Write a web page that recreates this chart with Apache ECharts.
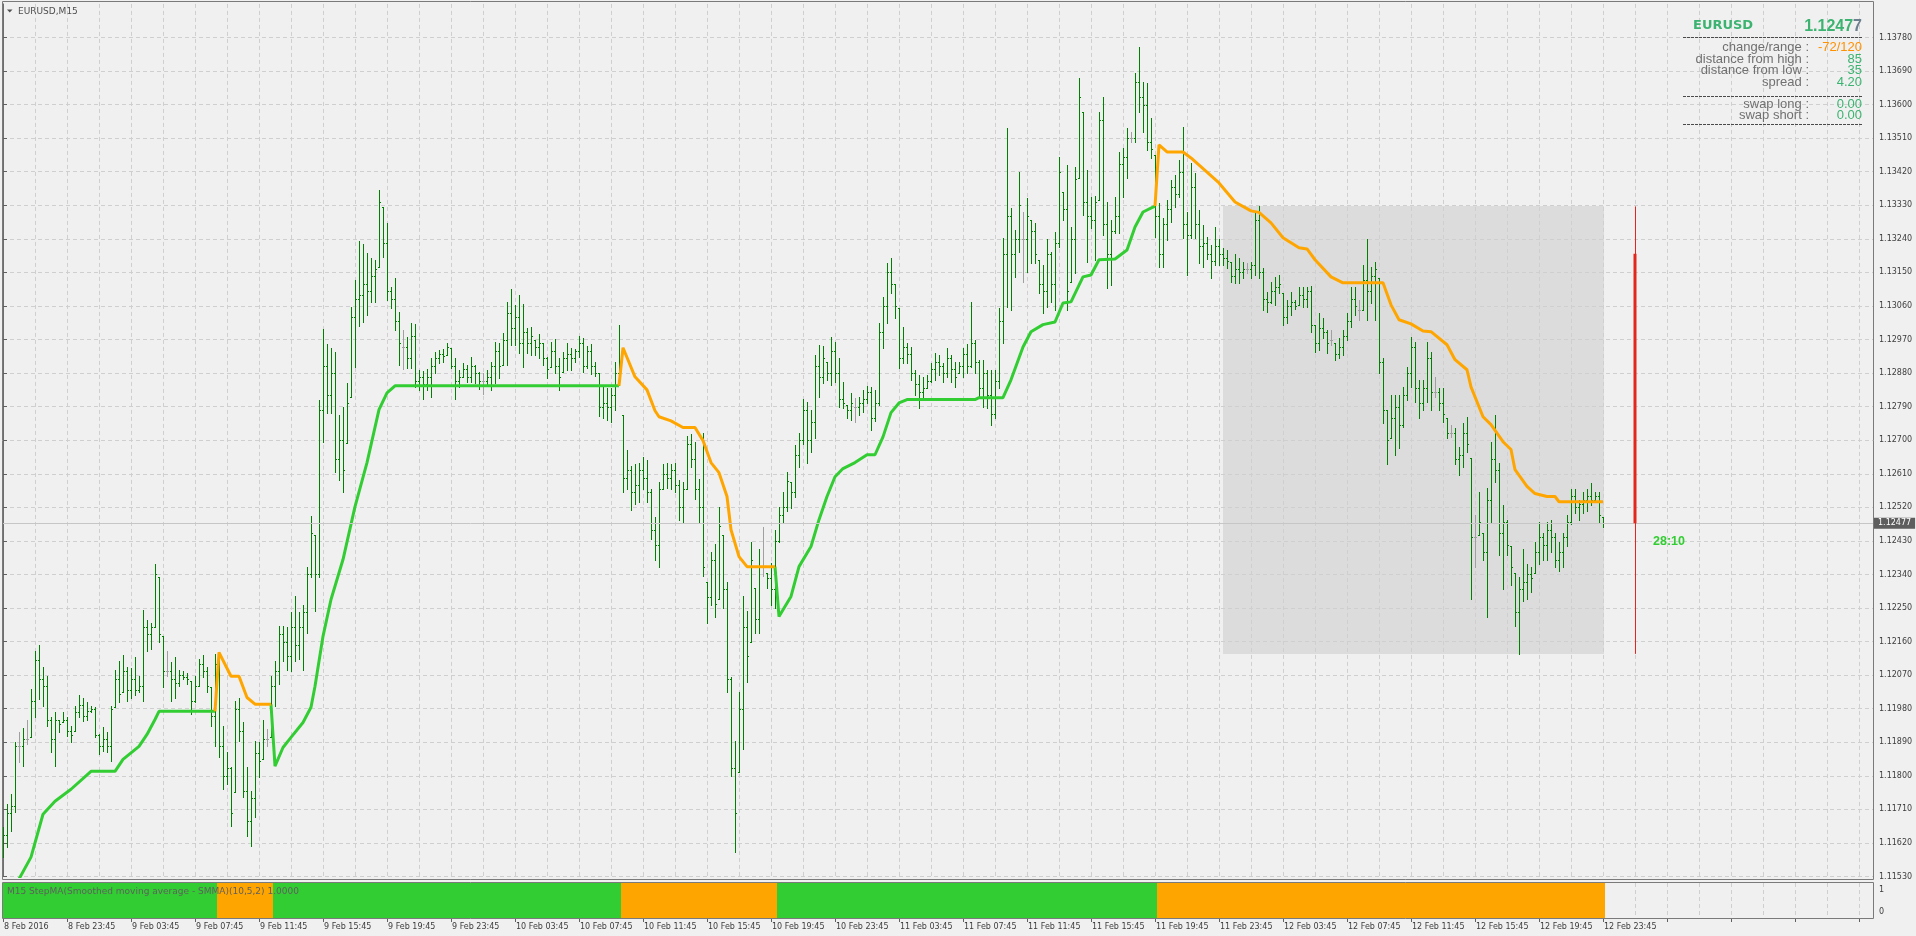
<!DOCTYPE html>
<html><head><meta charset="utf-8">
<script src="https://cdn.jsdelivr.net/npm/echarts@6/dist/echarts.min.js"></script>
<style>html,body{margin:0;padding:0;background:#f0f0f0;}#c{width:1916px;height:936px;}</style>
</head><body><div id="c"></div>
<script>
const symbolName = 'EURUSD';
const timeframe = 'M15';
const indicatorName = 'M15 StepMA(Smoothed moving average - SMMA)(10,5,2) 1.0000';
const timerText = '28:10';
const spreadValue = 4.20, swapLong = 0.00, swapShort = 0.00;
const tickLabels = ['8 Feb 2016','8 Feb 23:45','9 Feb 03:45','9 Feb 07:45','9 Feb 11:45','9 Feb 15:45','9 Feb 19:45','9 Feb 23:45','10 Feb 03:45','10 Feb 07:45','10 Feb 11:45','10 Feb 15:45','10 Feb 19:45','10 Feb 23:45','11 Feb 03:45','11 Feb 07:45','11 Feb 11:45','11 Feb 15:45','11 Feb 19:45','11 Feb 23:45','12 Feb 03:45','12 Feb 07:45','12 Feb 11:45','12 Feb 15:45','12 Feb 19:45','12 Feb 23:45'];
const dayStartIndex = 305; // first bar of 12 Feb

const barHigh = [1.11662,1.11724,1.11750,1.11890,1.11917,1.11927,1.11951,1.12032,1.12136,1.12152,
1.12091,1.12067,1.11959,1.11970,1.11951,1.11970,1.11957,1.11933,1.11986,1.12018,
1.12010,1.11997,1.11986,1.11984,1.11911,1.11930,1.11917,1.11986,1.12083,1.12109,
1.12123,1.12091,1.12088,1.12118,1.12067,1.12246,1.12219,1.12211,1.12367,1.12334,
1.12174,1.12134,1.12104,1.12118,1.12085,1.12080,1.12077,1.12053,1.12067,1.12112,
1.12123,1.12093,1.12037,1.12126,1.12118,1.11933,1.11863,1.11823,1.12000,1.12010,
1.11943,1.11823,1.11759,1.11893,1.11890,1.11951,1.11925,1.12067,1.12107,1.12201,
1.12201,1.12198,1.12238,1.12281,1.12238,1.12259,1.12359,1.12498,1.12447,1.12809,
1.12999,1.12959,1.12948,1.12937,1.12768,1.12790,1.12854,1.13058,1.13130,1.13234,
1.13226,1.13202,1.13189,1.13184,1.13371,1.13325,1.13283,1.13111,1.13135,1.13044,
1.12996,1.12977,1.13015,1.13012,1.12889,1.12886,1.12892,1.12921,1.12937,1.12943,
1.12945,1.12961,1.12948,1.12921,1.12889,1.12908,1.12902,1.12924,1.12902,1.12884,
1.12881,1.12889,1.12910,1.12964,1.12961,1.12988,1.13071,1.13106,1.13063,1.13090,
1.13066,1.13001,1.13004,1.12969,1.12985,1.12961,1.12924,1.12964,1.12972,1.12921,
1.12937,1.12961,1.12948,1.12945,1.12980,1.12975,1.12953,1.12959,1.12910,1.12881,
1.12846,1.12841,1.12841,1.12910,1.13010,1.12768,1.12675,1.12632,1.12635,1.12640,
1.12656,1.12648,1.12568,1.12493,1.12589,1.12637,1.12640,1.12635,1.12640,1.12594,
1.12589,1.12712,1.12718,1.12696,1.12597,1.12720,1.12321,1.12401,1.12423,1.12522,
1.12447,1.12321,1.12064,1.11893,1.12024,1.12281,1.12241,1.12426,1.12305,1.12407,
1.12468,1.12345,1.12372,1.12460,1.12522,1.12562,1.12616,1.12589,1.12688,1.12720,
1.12811,1.12803,1.12782,1.12929,1.12956,1.12953,1.12910,1.12977,1.12964,1.12921,
1.12857,1.12795,1.12827,1.12814,1.12817,1.12835,1.12846,1.12843,1.12835,1.13015,
1.13084,1.13176,1.13189,1.13119,1.13055,1.13004,1.12961,1.12950,1.12889,1.12876,
1.12870,1.12876,1.12908,1.12935,1.12929,1.12908,1.12948,1.12929,1.12910,1.12910,
1.12948,1.12959,1.13071,1.12969,1.12916,1.12916,1.12889,1.12889,1.12889,1.13055,
1.13243,1.13537,1.13323,1.13264,1.13419,1.13312,1.13350,1.13291,1.13283,1.13184,
1.13170,1.13240,1.13205,1.13259,1.13460,1.13366,1.13438,1.13272,1.13433,1.13671,
1.13580,1.13425,1.13352,1.13355,1.13580,1.13620,1.13339,1.13291,1.13352,1.13473,
1.13484,1.13537,1.13526,1.13684,1.13754,1.13660,1.13658,1.13564,1.13465,1.13336,
1.13296,1.13344,1.13398,1.13411,1.13451,1.13540,1.13312,1.13443,1.13417,1.13318,
1.13277,1.13245,1.13224,1.13272,1.13240,1.13216,1.13210,1.13178,1.13200,1.13189,
1.13178,1.13176,1.13178,1.13312,1.13327,1.13162,1.13098,1.13125,1.13138,1.13143,
1.13095,1.13076,1.13098,1.13076,1.13111,1.13111,1.13111,1.13114,1.13010,1.13042,
1.13028,1.12996,1.12996,1.12961,1.12975,1.12996,1.13042,1.13111,1.13111,1.13076,
1.13170,1.13240,1.13165,1.13178,1.13135,1.12921,1.12782,1.12822,1.12822,1.12822,
1.12843,1.12897,1.12977,1.12964,1.12862,1.12862,1.12964,1.12937,1.12870,1.12841,
1.12841,1.12760,1.12742,1.12734,1.12683,1.12747,1.12763,1.12653,1.12500,1.12562,
1.12452,1.12573,1.12696,1.12768,1.12640,1.12527,1.12487,1.12415,1.12345,1.12332,
1.12407,1.12367,1.12361,1.12426,1.12482,1.12452,1.12482,1.12487,1.12452,1.12426,
1.12452,1.12500,1.12568,1.12568,1.12541,1.12560,1.12568,1.12584,1.12562,1.12562,
1.12495];

const barLow = [1.11582,1.11609,1.11651,1.11702,1.11836,1.11826,1.11884,1.11903,1.11957,1.12005,
1.11986,1.11933,1.11863,1.11826,1.11917,1.11943,1.11906,1.11890,1.11919,1.11959,
1.11946,1.11951,1.11970,1.11903,1.11858,1.11866,1.11863,1.11839,1.11984,1.11997,
1.12026,1.12000,1.12008,1.12018,1.12024,1.12000,1.12134,1.12139,1.12198,1.12160,
1.12037,1.12067,1.12000,1.12010,1.12040,1.12059,1.12045,1.11965,1.11997,1.12040,
1.12064,1.12026,1.11933,1.11879,1.11850,1.11764,1.11777,1.11665,1.11756,1.11893,
1.11743,1.11638,1.11611,1.11689,1.11796,1.11844,1.11879,1.11903,1.11986,1.12045,
1.12107,1.12085,1.12080,1.12107,1.12112,1.12085,1.12184,1.12332,1.12241,1.12332,
1.12696,1.12774,1.12774,1.12616,1.12592,1.12560,1.12693,1.12817,1.12897,1.13007,
1.13017,1.13036,1.13071,1.13071,1.13165,1.13192,1.13076,1.13055,1.12996,1.12902,
1.12892,1.12894,1.12894,1.12843,1.12835,1.12811,1.12835,1.12817,1.12881,1.12908,
1.12910,1.12929,1.12894,1.12811,1.12843,1.12870,1.12857,1.12857,1.12854,1.12838,
1.12825,1.12849,1.12835,1.12854,1.12868,1.12902,1.12902,1.12956,1.12956,1.12935,
1.12897,1.12935,1.12929,1.12929,1.12921,1.12902,1.12868,1.12897,1.12881,1.12835,
1.12884,1.12889,1.12889,1.12910,1.12924,1.12884,1.12894,1.12878,1.12873,1.12766,
1.12760,1.12755,1.12750,1.12782,1.12849,1.12560,1.12568,1.12514,1.12530,1.12535,
1.12568,1.12533,1.12434,1.12380,1.12361,1.12568,1.12573,1.12568,1.12560,1.12487,
1.12479,1.12568,1.12629,1.12543,1.12482,1.12337,1.12211,1.12257,1.12227,1.12273,
1.12251,1.12026,1.11799,1.11595,1.11809,1.11871,1.12051,1.12160,1.12184,1.12184,
1.12337,1.12305,1.12259,1.12251,1.12428,1.12482,1.12509,1.12519,1.12549,1.12629,
1.12691,1.12640,1.12669,1.12707,1.12817,1.12854,1.12862,1.12849,1.12857,1.12790,
1.12787,1.12760,1.12755,1.12750,1.12768,1.12776,1.12800,1.12728,1.12752,1.12795,
1.12948,1.13015,1.13095,1.13028,1.12894,1.12908,1.12908,1.12862,1.12822,1.12787,
1.12809,1.12841,1.12857,1.12862,1.12876,1.12857,1.12870,1.12857,1.12843,1.12881,
1.12870,1.12881,1.12897,1.12881,1.12817,1.12790,1.12787,1.12742,1.12760,1.12841,
1.12961,1.13058,1.13050,1.13138,1.13205,1.13125,1.13151,1.13176,1.13176,1.13095,
1.13042,1.13058,1.13071,1.13050,1.13218,1.13291,1.13050,1.13125,1.13149,1.13403,
1.13304,1.13178,1.13269,1.13184,1.13344,1.13250,1.13109,1.13117,1.13256,1.13256,
1.13352,1.13403,1.13500,1.13500,1.13580,1.13526,1.13478,1.13457,1.13245,1.13165,
1.13165,1.13237,1.13285,1.13325,1.13352,1.13243,1.13143,1.13243,1.13243,1.13176,
1.13165,1.13186,1.13135,1.13170,1.13170,1.13170,1.13162,1.13125,1.13122,1.13122,
1.13135,1.13149,1.13135,1.13143,1.13135,1.13050,1.13044,1.13068,1.13063,1.13095,
1.13010,1.13015,1.13036,1.13052,1.13063,1.13058,1.13058,1.12991,1.12937,1.12943,
1.12975,1.12935,1.12956,1.12916,1.12921,1.12929,1.12969,1.13004,1.13036,1.13023,
1.13050,1.13023,1.13068,1.13023,1.12881,1.12747,1.12635,1.12707,1.12661,1.12680,
1.12736,1.12809,1.12843,1.12803,1.12760,1.12782,1.12803,1.12782,1.12817,1.12782,
1.12750,1.12707,1.12709,1.12635,1.12608,1.12629,1.12669,1.12273,1.12359,1.12447,
1.12380,1.12225,1.12482,1.12589,1.12393,1.12300,1.12393,1.12313,1.12201,1.12127,
1.12268,1.12273,1.12294,1.12345,1.12367,1.12380,1.12380,1.12401,1.12361,1.12348,
1.12359,1.12415,1.12474,1.12506,1.12487,1.12506,1.12509,1.12527,1.12533,1.12482,
1.12466];

const barOpen = [1.11600,1.11640,1.11700,1.11720,1.11880,1.11880,1.11900,1.11903,1.12000,1.12110,
1.12060,1.12040,1.11950,1.11900,1.11950,1.11943,1.11950,1.11920,1.11919,1.11970,
1.11990,1.11960,1.11975,1.11980,1.11910,1.11880,1.11900,1.11880,1.11984,1.12060,
1.12026,1.12080,1.12030,1.12060,1.12030,1.12040,1.12200,1.12180,1.12200,1.12334,
1.12174,1.12080,1.12080,1.12060,1.12050,1.12070,1.12065,1.12053,1.12000,1.12040,
1.12100,1.12080,1.12037,1.11960,1.12100,1.11880,1.11800,1.11820,1.11756,1.11980,
1.11920,1.11760,1.11680,1.11740,1.11860,1.11844,1.11900,1.11903,1.12040,1.12080,
1.12180,1.12160,1.12120,1.12200,1.12150,1.12200,1.12240,1.12340,1.12447,1.12340,
1.12780,1.12900,1.12820,1.12880,1.12650,1.12700,1.12693,1.12817,1.13030,1.13080,
1.13090,1.13120,1.13100,1.13140,1.13165,1.13325,1.13230,1.13100,1.13080,1.13020,
1.12950,1.12950,1.12920,1.12980,1.12860,1.12870,1.12850,1.12870,1.12900,1.12920,
1.12930,1.12929,1.12948,1.12900,1.12860,1.12870,1.12890,1.12870,1.12900,1.12880,
1.12860,1.12860,1.12870,1.12900,1.12940,1.12902,1.12970,1.13040,1.13000,1.13030,
1.12960,1.12990,1.12960,1.12969,1.12950,1.12960,1.12920,1.12897,1.12940,1.12900,
1.12884,1.12920,1.12930,1.12920,1.12940,1.12960,1.12900,1.12940,1.12900,1.12880,
1.12790,1.12800,1.12790,1.12820,1.12880,1.12768,1.12600,1.12620,1.12560,1.12580,
1.12620,1.12600,1.12560,1.12460,1.12420,1.12570,1.12610,1.12600,1.12620,1.12580,
1.12520,1.12570,1.12690,1.12650,1.12570,1.12520,1.12321,1.12280,1.12380,1.12273,
1.12447,1.12300,1.12060,1.11820,1.11809,1.11980,1.12200,1.12160,1.12305,1.12220,
1.12360,1.12345,1.12330,1.12300,1.12430,1.12500,1.12520,1.12589,1.12560,1.12660,
1.12700,1.12780,1.12700,1.12750,1.12900,1.12870,1.12910,1.12880,1.12940,1.12880,
1.12810,1.12795,1.12780,1.12790,1.12790,1.12800,1.12810,1.12830,1.12760,1.12800,
1.12990,1.13060,1.13150,1.13119,1.13055,1.12920,1.12950,1.12930,1.12880,1.12850,
1.12830,1.12841,1.12860,1.12890,1.12910,1.12900,1.12880,1.12920,1.12890,1.12881,
1.12900,1.12930,1.12900,1.12960,1.12910,1.12840,1.12880,1.12820,1.12770,1.12860,
1.13020,1.13200,1.13300,1.13200,1.13240,1.13240,1.13240,1.13291,1.13260,1.13184,
1.13120,1.13100,1.13200,1.13120,1.13230,1.13366,1.13320,1.13125,1.13240,1.13403,
1.13580,1.13340,1.13300,1.13290,1.13344,1.13560,1.13280,1.13200,1.13260,1.13300,
1.13440,1.13460,1.13510,1.13510,1.13660,1.13620,1.13600,1.13500,1.13465,1.13300,
1.13200,1.13280,1.13320,1.13380,1.13360,1.13420,1.13280,1.13250,1.13380,1.13280,
1.13220,1.13230,1.13200,1.13180,1.13220,1.13200,1.13190,1.13178,1.13140,1.13160,
1.13150,1.13160,1.13160,1.13170,1.13290,1.13150,1.13080,1.13070,1.13100,1.13110,
1.13095,1.13030,1.13060,1.13070,1.13063,1.13090,1.13080,1.13100,1.13010,1.12960,
1.13000,1.12990,1.12970,1.12961,1.12930,1.12950,1.12980,1.13020,1.13080,1.13050,
1.13050,1.13130,1.13100,1.13140,1.13135,1.12910,1.12780,1.12707,1.12760,1.12790,
1.12740,1.12820,1.12880,1.12950,1.12840,1.12800,1.12840,1.12920,1.12830,1.12830,
1.12800,1.12760,1.12720,1.12720,1.12650,1.12660,1.12720,1.12653,1.12440,1.12447,
1.12452,1.12400,1.12540,1.12650,1.12620,1.12450,1.12480,1.12415,1.12345,1.12240,
1.12300,1.12320,1.12340,1.12345,1.12400,1.12440,1.12420,1.12460,1.12440,1.12380,
1.12400,1.12440,1.12480,1.12550,1.12520,1.12530,1.12540,1.12550,1.12540,1.12550,
1.12495];

const barClose = [1.11640,1.11700,1.11720,1.11880,1.11880,1.11900,1.11900,1.12000,1.12110,1.12060,
1.12040,1.11950,1.11900,1.11950,1.11940,1.11950,1.11920,1.11910,1.11970,1.11990,
1.11960,1.11975,1.11980,1.11910,1.11880,1.11900,1.11880,1.11980,1.12060,1.12020,
1.12080,1.12030,1.12060,1.12030,1.12040,1.12200,1.12180,1.12200,1.12340,1.12180,
1.12080,1.12080,1.12060,1.12050,1.12070,1.12065,1.12060,1.12000,1.12040,1.12100,
1.12080,1.12040,1.11960,1.12100,1.11880,1.11800,1.11820,1.11700,1.11980,1.11920,
1.11760,1.11680,1.11740,1.11860,1.11840,1.11900,1.11900,1.12040,1.12080,1.12180,
1.12160,1.12120,1.12200,1.12150,1.12200,1.12240,1.12340,1.12450,1.12340,1.12780,
1.12900,1.12820,1.12880,1.12650,1.12700,1.12620,1.12800,1.13030,1.13080,1.13090,
1.13120,1.13100,1.13140,1.13160,1.13340,1.13230,1.13100,1.13080,1.13020,1.12960,
1.12950,1.12920,1.12980,1.12860,1.12870,1.12850,1.12870,1.12900,1.12920,1.12930,
1.12925,1.12950,1.12900,1.12860,1.12870,1.12890,1.12870,1.12900,1.12880,1.12860,
1.12860,1.12870,1.12900,1.12940,1.12900,1.12970,1.13040,1.13000,1.13030,1.12960,
1.12990,1.12960,1.12980,1.12950,1.12960,1.12920,1.12890,1.12940,1.12900,1.12870,
1.12920,1.12930,1.12920,1.12940,1.12960,1.12900,1.12940,1.12900,1.12880,1.12790,
1.12800,1.12790,1.12820,1.12880,1.12860,1.12600,1.12620,1.12560,1.12580,1.12620,
1.12600,1.12560,1.12460,1.12420,1.12570,1.12610,1.12600,1.12620,1.12580,1.12520,
1.12570,1.12690,1.12650,1.12570,1.12520,1.12360,1.12280,1.12380,1.12260,1.12470,
1.12300,1.12060,1.11820,1.11700,1.11980,1.12200,1.12120,1.12380,1.12220,1.12360,
1.12360,1.12330,1.12300,1.12430,1.12500,1.12520,1.12590,1.12560,1.12660,1.12700,
1.12780,1.12700,1.12750,1.12900,1.12870,1.12920,1.12880,1.12940,1.12880,1.12810,
1.12800,1.12780,1.12800,1.12790,1.12800,1.12810,1.12830,1.12760,1.12800,1.12990,
1.13060,1.13150,1.13120,1.13060,1.12920,1.12950,1.12930,1.12880,1.12850,1.12830,
1.12840,1.12860,1.12890,1.12910,1.12900,1.12880,1.12920,1.12890,1.12870,1.12900,
1.12930,1.12900,1.12960,1.12910,1.12840,1.12880,1.12820,1.12770,1.12860,1.13020,
1.13200,1.13300,1.13200,1.13240,1.13330,1.13240,1.13300,1.13260,1.13200,1.13120,
1.13100,1.13200,1.13120,1.13230,1.13420,1.13320,1.13100,1.13240,1.13400,1.13620,
1.13340,1.13300,1.13290,1.13340,1.13560,1.13280,1.13200,1.13260,1.13300,1.13440,
1.13460,1.13510,1.13510,1.13660,1.13620,1.13600,1.13500,1.13480,1.13300,1.13200,
1.13280,1.13320,1.13380,1.13360,1.13420,1.13280,1.13250,1.13380,1.13280,1.13220,
1.13230,1.13200,1.13180,1.13220,1.13200,1.13190,1.13180,1.13140,1.13160,1.13150,
1.13160,1.13160,1.13170,1.13290,1.13150,1.13080,1.13070,1.13100,1.13110,1.13120,
1.13030,1.13060,1.13070,1.13060,1.13090,1.13080,1.13100,1.13010,1.12960,1.13000,
1.12990,1.12960,1.12970,1.12930,1.12950,1.12980,1.13020,1.13080,1.13060,1.13050,
1.13130,1.13100,1.13140,1.13160,1.12910,1.12780,1.12700,1.12760,1.12790,1.12740,
1.12820,1.12880,1.12950,1.12840,1.12800,1.12840,1.12920,1.12830,1.12830,1.12800,
1.12770,1.12720,1.12720,1.12650,1.12660,1.12720,1.12690,1.12440,1.12440,1.12480,
1.12400,1.12540,1.12650,1.12620,1.12450,1.12480,1.12420,1.12360,1.12240,1.12300,
1.12320,1.12340,1.12330,1.12400,1.12440,1.12420,1.12460,1.12440,1.12380,1.12400,
1.12440,1.12480,1.12550,1.12520,1.12530,1.12540,1.12550,1.12540,1.12550,1.12500,
1.12477];

// StepMA keypoints [bar, value]
const stepUpSegments = [
  [[2,1.11475],[4,1.11523],[7,1.11582],[10,1.11697],[13,1.11732],[17,1.11764],[22,1.11812],[28,1.11812],[30,1.11844],[34,1.11879],[36,1.11911],[38,1.11951],[39,1.11973],[53,1.11973]],
  [[67,1.11992],[68,1.11826],[70,1.11876],[72,1.11903],[75,1.11943],[77,1.11984],[78,1.12040],[80,1.12174],[82,1.12273],[85,1.12380],[88,1.12522],[91,1.12640],[94,1.12782],[96,1.12827],[98,1.12846],[154,1.12846]],
  [[193,1.12361],[194,1.12227],[197,1.12281],[199,1.12361],[202,1.12415],[204,1.12487],[206,1.12549],[208,1.12602],[210,1.12624],[213,1.12640],[216,1.12661],[218,1.12661],[220,1.12709],[222,1.12774],[224,1.12800],[226,1.12809],[243,1.12809],[244,1.12814],[250,1.12814],[252,1.12862],[255,1.12950],[257,1.12991],[260,1.13010],[263,1.13017],[265,1.13068],[267,1.13071],[270,1.13138],[272,1.13143],[274,1.13184],[278,1.13186],[281,1.13210],[283,1.13272],[285,1.13312],[288,1.13328]]
];
const stepDownSegments = [
  [[53,1.11973],[54,1.12131],[57,1.12067],[59,1.12067],[61,1.12010],[63,1.11992],[67,1.11992]],
  [[154,1.12846],[155,1.12948],[158,1.12870],[161,1.12835],[163,1.12779],[164,1.12763],[167,1.12752],[170,1.12734],[173,1.12734],[175,1.12699],[177,1.12640],[179,1.12613],[181,1.12549],[182,1.12460],[184,1.12388],[186,1.12361],[193,1.12361]],
  [[288,1.13328],[289,1.13492],[291,1.13473],[295,1.13473],[297,1.13457],[301,1.13419],[304,1.13390],[308,1.13339],[312,1.13315],[314,1.13311],[317,1.13283],[320,1.13243],[324,1.13216],[326,1.13213],[328,1.13184],[332,1.13138],[335,1.13122],[345,1.13122],[347,1.13063],[349,1.13023],[352,1.13012],[355,1.12993],[357,1.12991],[361,1.12956],[363,1.12916],[366,1.12889],[367,1.12843],[370,1.12763],[372,1.12742],[375,1.12696],[377,1.12675],[378,1.12621],[381,1.12576],[383,1.12557],[386,1.12549],[388,1.12549],[389,1.12535],[400,1.12535]]
];
const trendStart = [0, 54, 68, 155, 194, 289];
const trendEnd   = [53, 67, 154, 193, 288, 400];
const trendDir   = [1, -1, 1, -1, 1, -1];

// ---------- derived ----------
const UP = '#32cd32', DOWN = '#ffa500', BAR = '#008000', DOJI = '#a0a0a0';
const lastIndex = barClose.length - 1;
const lastClose = barClose[lastIndex];
const dayOpen = barOpen[dayStartIndex];
const dayHigh = Math.max(...barHigh.slice(dayStartIndex));
const dayLow = Math.min(...barLow.slice(dayStartIndex));
const pip = 0.0001;
const changePips = Math.round((lastClose - dayOpen) / pip);
const rangePips = Math.round((dayHigh - dayLow) / pip);
const distHigh = Math.round((dayHigh - lastClose) / pip);
const distLow = Math.round((lastClose - dayLow) / pip);
const barData = barClose.map((c, i) => [i, barOpen[i], barHigh[i], barLow[i], c]);
const trendData = trendStart.map((s, k) => [s, trendEnd[k], trendDir[k]]);

const yMin = 1.11530, yStep = 0.0009, ySteps = 26;
const yMax = yMin + yStep * ySteps;           // 1.13870, top edge of the price grid
const pxPerStep = 33.56;
const mainBottom = 876.5;
const mainH = pxPerStep * ySteps;
const mainTop = mainBottom - mainH;
const xMax = 467.5;
const redX = lastIndex + 8.125;
const AX = '"DejaVu Sans", sans-serif';
const dash = [4, 3];

function renderBar(params, api) {
  const i = api.value(0), o = api.value(1), h = api.value(2), l = api.value(3), c = api.value(4);
  const ph = api.coord([i, h]), pl = api.coord([i, l]), po = api.coord([i, o]), pc = api.coord([i, c]);
  const x = Math.round(ph[0]);
  const yh = Math.round(ph[1]), yl = Math.round(pl[1]), yo = Math.round(po[1]), yc = Math.round(pc[1]);
  const col = (o === c) ? DOJI : BAR;
  return { type: 'group', children: [
    { type: 'rect', shape: { x: x, y: yh, width: 1, height: Math.max(1, yl - yh + 1) }, style: { fill: col } },
    { type: 'rect', shape: { x: x - 1, y: yo, width: 1, height: 1 }, style: { fill: col } },
    { type: 'rect', shape: { x: x + 1, y: yc, width: 1, height: 1 }, style: { fill: col } }
  ]};
}
function renderRange(params, api) {
  const p1 = api.coord([api.value(0), api.value(3)]);
  const p2 = api.coord([api.value(1), api.value(2)]);
  const x1 = Math.round(p1[0]), y1 = Math.round(p1[1]);
  return { type: 'rect', shape: { x: x1, y: y1, width: Math.round(p2[0]) - x1 + 1, height: Math.round(p2[1]) - y1 }, style: { fill: '#dcdcdc' } };
}
function renderTrend(params, api) {
  const cs = params.coordSys;
  const p1 = api.coord([api.value(0) - 0.5, 0]);
  const p2 = api.coord([api.value(1) + 0.5, 0]);
  const x1 = Math.max(cs.x, Math.round(p1[0]));
  const x2 = Math.round(p2[0]);
  return { type: 'rect', shape: { x: x1, y: cs.y, width: x2 - x1, height: cs.height }, style: { fill: api.value(2) > 0 ? UP : DOWN } };
}

const series = [];
series.push({ type: 'custom', name: 'dayRange', xAxisIndex: 0, yAxisIndex: 0, z: -1, silent: true,
  renderItem: renderRange, encode: { x: [0, 1], y: [2, 3] }, data: [[dayStartIndex, lastIndex, dayLow, dayHigh]] });
series.push({ type: 'custom', name: 'bars', xAxisIndex: 0, yAxisIndex: 0, z: 2, silent: true,
  renderItem: renderBar, encode: { x: 0, y: [2, 3] }, data: barData,
  markLine: { silent: true, symbol: ['none', 'none'], animation: false, precision: 5,
    lineStyle: { color: '#c6c6c6', width: 1, type: 'solid' },
    label: { show: true, position: 'end', distance: 1, formatter: p => Number(p.value).toFixed(5),
      color: '#ffffff', backgroundColor: '#5e5e5e', padding: [2, 4, 1, 4], fontSize: 8, fontFamily: AX },
    data: [{ yAxis: lastClose }] } });
stepUpSegments.forEach(seg => {
  series.push({ type: 'line', xAxisIndex: 0, yAxisIndex: 0, z: 4, silent: true, showSymbol: false, symbol: 'none',
    lineStyle: { color: UP, width: 3 }, data: seg });
});
stepDownSegments.forEach(seg => {
  series.push({ type: 'line', xAxisIndex: 0, yAxisIndex: 0, z: 4, silent: true, showSymbol: false, symbol: 'none',
    lineStyle: { color: DOWN, width: 3 }, data: seg });
});
series.push({ type: 'line', xAxisIndex: 0, yAxisIndex: 0, z: 5, silent: true, showSymbol: false, symbol: 'none',
  lineStyle: { color: '#e3261c', width: 1 }, data: [[redX, dayHigh], [redX, dayLow]] });
series.push({ type: 'line', xAxisIndex: 0, yAxisIndex: 0, z: 5, silent: true, showSymbol: false, symbol: 'none',
  lineStyle: { color: '#e3261c', width: 3 }, data: [[lastIndex + 8, dayOpen], [lastIndex + 8, lastClose]] });
series.push({ type: 'custom', name: 'trend', xAxisIndex: 1, yAxisIndex: 1, z: 2, silent: true,
  renderItem: renderTrend, encode: { x: [0, 1] }, data: trendData });

const splitX = { show: true, lineStyle: { color: '#cfcfcf', width: 1, type: dash } };

// info panel
const LBL = '#707070', VAL = '#3cb371';
const rows = [
  ['change/range :', changePips + '/' + rangePips, '#ff9000', 47.5],
  ['distance from high :', String(distHigh), VAL, 59],
  ['distance from low :', String(distLow), VAL, 70.5],
  ['spread :', spreadValue.toFixed(2), VAL, 82],
  ['swap long :', swapLong.toFixed(2), VAL, 104],
  ['swap short :', swapShort.toFixed(2), VAL, 115.5]
];
function txt(x, y, text, font, fill, align) {
  return { type: 'text', x: x, y: y, z: 100, silent: true,
    style: { text: text, font: font, fill: fill, textAlign: align || 'left', align: align || 'left', textVerticalAlign: 'middle', verticalAlign: 'middle' } };
}
function hline(x1, x2, y, color, lineDash) {
  return { type: 'line', z: 100, silent: true, shape: { x1: x1, y1: y, x2: x2, y2: y }, style: { stroke: color, lineWidth: 1, lineDash: lineDash || null } };
}
const priceStr = lastClose.toFixed(5);
const bigFont = 'bold 16px "Liberation Sans", Arial, sans-serif';
const graphic = [
  { type: 'rect', z: 90, silent: true, shape: { x: 2.5, y: 1.5, width: 1871, height: 878 }, style: { fill: null, stroke: '#7a7a7a', lineWidth: 1 } },
  { type: 'rect', z: 90, silent: true, shape: { x: 2.5, y: 882.5, width: 1871, height: 36 }, style: { fill: null, stroke: '#7a7a7a', lineWidth: 1 } },
  { type: 'polygon', z: 100, silent: true, shape: { points: [[7, 9.5], [12.5, 9.5], [9.75, 12.5]] }, style: { fill: '#505050' } },
  txt(18, 11.5, symbolName + ',' + timeframe, '9px ' + AX, '#4e4e4e'),
  txt(7, 892, indicatorName, '9px ' + AX, '#5f5f5f'),
  txt(1653, 542, timerText, 'bold 12.5px "Liberation Sans", Arial, sans-serif', UP),
  txt(1693, 25.5, symbolName, 'bold 13px ' + AX, VAL),
  txt(1862 - 8.9, 26.5, priceStr.slice(0, -1), bigFont, VAL, 'right'),
  txt(1862, 26.5, priceStr.slice(-1), bigFont, '#6c7f8e', 'right'),
  hline(1683, 1862, 37.5, '#4a4a4a', [3, 1]),
  hline(1683, 1862, 96.5, '#4a4a4a', [3, 1]),
  hline(1683, 1862, 124.5, '#4a4a4a', [3, 1])
];
rows.forEach(r => {
  graphic.push(txt(1809, r[3], r[0], '13px "Liberation Sans", Arial, sans-serif', LBL, 'right'));
  graphic.push(txt(1862, r[3], r[1], '13px "Liberation Sans", Arial, sans-serif', r[2], 'right'));
});

const option = {
  backgroundColor: '#f0f0f0',
  animation: false,
  textStyle: { fontFamily: AX },
  grid: [
    { left: 3, top: mainTop, width: 1870, height: mainH, show: false },
    { left: 3, top: 883, width: 1870, height: 35, show: false },
    { left: 3, top: 890, width: 1870, height: 21.7, show: false }
  ],
  xAxis: [
    { type: 'value', gridIndex: 0, min: 0, max: xMax, interval: 8, axisLine: { show: false }, axisTick: { show: false }, axisLabel: { show: false }, splitLine: splitX },
    { type: 'value', gridIndex: 1, min: 0, max: xMax, interval: 8, axisLine: { show: false }, axisTick: { show: false }, axisLabel: { show: false }, splitLine: splitX },
    { type: 'value', gridIndex: 1, min: 0, max: xMax, interval: 16, position: 'bottom',
      axisLine: { show: false }, axisTick: { show: true, length: 4, lineStyle: { color: '#606060' } },
      axisLabel: { show: true, showMaxLabel: false, align: 'left', margin: 5, fontSize: 8, fontFamily: AX, color: '#3c3c3c', padding: [0, 0, 0, 1],
        formatter: v => (v % 16 === 0 && tickLabels[v / 16]) ? tickLabels[v / 16] : '' },
      splitLine: { show: false } },
    { type: 'value', gridIndex: 2, min: 0, max: xMax, show: false }
  ],
  yAxis: [
    { type: 'value', gridIndex: 0, position: 'right', min: yMin, max: yMax, interval: yStep, scale: false,
      axisLine: { show: true, lineStyle: { color: '#6e6e6e' } },
      axisTick: { show: true, length: 4, lineStyle: { color: '#606060' } },
      axisLabel: { show: true, showMaxLabel: false, margin: 6, fontSize: 8, fontFamily: AX, color: '#3c3c3c',
        formatter: v => (v > yMax - yStep / 2) ? '' : v.toFixed(5) },
      splitLine: { show: true, showMaxLine: false, lineStyle: { color: '#cfcfcf', width: 1, type: dash } } },
    { type: 'value', gridIndex: 1, min: 0, max: 1, show: false },
    { type: 'value', gridIndex: 2, position: 'right', min: 0, max: 1, interval: 1,
      axisLine: { show: false }, axisTick: { show: false },
      axisLabel: { show: true, margin: 6, fontSize: 8, fontFamily: AX, color: '#3c3c3c' },
      splitLine: { show: false } }
  ],
  series: series,
  graphic: graphic
};
const chart = echarts.init(document.getElementById('c'), null, { renderer: 'canvas', width: 1916, height: 936 });
chart.setOption(option);
</script>
</body></html>
